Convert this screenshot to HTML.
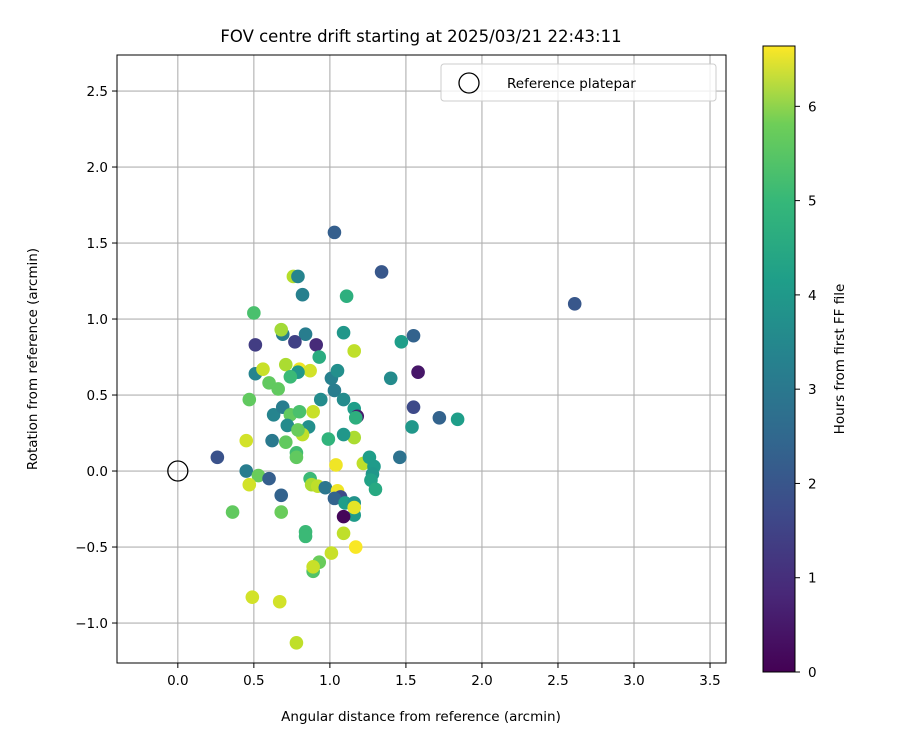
<!DOCTYPE html>
<html><head><meta charset="utf-8"><style>
body{margin:0;background:#fff}
svg text{font-family:"DejaVu Sans","Liberation Sans",sans-serif;fill:#000}
</style></head><body>
<svg id="c" width="900" height="750" xmlns="http://www.w3.org/2000/svg">
<rect width="900" height="750" fill="#fff"/>
<g id="grid"></g><g id="pts"></g><g id="axes"></g>
<text x="421" y="42" font-size="16.5" text-anchor="middle">FOV centre drift starting at 2025/03/21 22:43:11</text>
<text x="421" y="721" font-size="13.5" text-anchor="middle">Angular distance from reference (arcmin)</text>
<text x="37" y="359" font-size="13.5" text-anchor="middle" transform="rotate(-90 37 359)">Rotation from reference (arcmin)</text>
<g>
<rect x="441" y="64" width="275" height="37" rx="3" fill="#fff" fill-opacity="0.8" stroke="#ccc"/>
<circle cx="469" cy="83" r="10" fill="none" stroke="#000" stroke-width="1.3"/>
<text x="507" y="88" font-size="13.5">Reference platepar</text>
</g>
<defs><linearGradient id="vg" x1="0" y1="1" x2="0" y2="0">
<stop offset="0" stop-color="#440154"/><stop offset="0.125" stop-color="#482878"/><stop offset="0.25" stop-color="#3e4989"/><stop offset="0.375" stop-color="#31688e"/><stop offset="0.5" stop-color="#26828e"/><stop offset="0.625" stop-color="#1f9e89"/><stop offset="0.75" stop-color="#35b779"/><stop offset="0.875" stop-color="#6ece58"/><stop offset="1" stop-color="#fde725"/></linearGradient></defs>
<rect x="763" y="46" width="32" height="626" fill="url(#vg)" stroke="#000" stroke-width="1"/>
<g id="cb"></g>
<text x="844" y="359" font-size="13.5" text-anchor="middle" transform="rotate(-90 844 359)">Hours from first FF file</text>
</svg>
<script>
const xs=[1.03,1.34,2.61,0.76,0.79,0.82,1.11,0.5,0.69,0.68,0.84,0.51,0.77,0.91,1.09,1.16,1.55,1.47,0.93,1.58,1.4,0.51,0.56,0.71,0.8,0.87,0.79,0.74,0.6,0.66,0.47,1.01,1.05,1.03,1.09,0.94,1.16,1.18,1.17,1.55,1.72,1.84,1.54,0.63,0.69,0.74,0.72,0.8,0.89,0.86,0.82,0.78,0.78,0.79,0.71,0.62,0.45,0.26,0.45,0.53,0.6,0.47,0.36,0.68,0.68,0.99,1.16,1.09,1.04,1.22,1.26,1.29,1.28,1.27,1.3,1.46,0.87,0.88,0.92,0.97,1.05,1.07,1.03,1.1,1.16,1.16,1.09,1.16,1.09,1.17,1.01,0.93,0.89,0.89,0.84,0.84,0.49,0.67,0.78];
const ys=[1.57,1.31,1.10,1.28,1.28,1.16,1.15,1.04,0.90,0.93,0.90,0.83,0.85,0.83,0.91,0.79,0.89,0.85,0.75,0.65,0.61,0.64,0.67,0.70,0.67,0.66,0.65,0.62,0.58,0.54,0.47,0.61,0.66,0.53,0.47,0.47,0.41,0.36,0.35,0.42,0.35,0.34,0.29,0.37,0.42,0.37,0.30,0.39,0.39,0.29,0.24,0.12,0.09,0.27,0.19,0.20,0.20,0.09,0.00,-0.03,-0.05,-0.09,-0.27,-0.16,-0.27,0.21,0.22,0.24,0.04,0.05,0.09,0.03,-0.02,-0.06,-0.12,0.09,-0.05,-0.09,-0.10,-0.11,-0.13,-0.17,-0.18,-0.21,-0.21,-0.29,-0.30,-0.24,-0.41,-0.50,-0.54,-0.60,-0.66,-0.63,-0.40,-0.43,-0.83,-0.86,-1.13];
const hrs=[2.0,1.8,1.8,5.9,3.0,2.9,4.2,4.7,2.8,5.7,2.8,1.2,1.3,0.8,3.5,6.0,2.1,3.7,4.1,0.4,3.2,3.0,6.1,5.8,6.5,6.2,3.5,4.5,5.0,5.0,5.0,2.9,3.3,2.8,3.2,3.2,3.7,0.5,4.2,1.5,2.1,3.7,3.5,3.0,2.8,5.0,3.2,4.7,6.1,3.3,6.0,4.6,5.0,5.1,5.0,2.7,6.2,1.7,2.8,5.1,2.0,6.2,5.0,2.1,5.1,4.3,5.8,3.5,6.5,6.0,3.7,3.6,3.5,3.8,4.0,2.5,4.5,5.8,6.0,2.6,6.5,1.5,2.1,3.7,3.4,3.6,0.1,6.4,6.0,6.6,6.1,5.1,4.8,6.1,4.5,4.5,6.2,6.2,6.0];
const xTicks=[0,0.5,1,1.5,2,2.5,3,3.5];
const yTicks=[-1,-0.5,0,0.5,1,1.5,2,2.5];
const cTicks=[0,1,2,3,4,5,6];
const X0=117,X1=726,Y0=55,Y1=663,xmin=-0.4,xmax=3.605,ymin=-1.263,ymax=2.737,hmax=6.64;
const sx=v=>X0+(v-xmin)/(xmax-xmin)*(X1-X0);
const sy=v=>Y1-(v-ymin)/(ymax-ymin)*(Y1-Y0);
const sc=h=>672-h/hmax*626;
const NS="http://www.w3.org/2000/svg";
function mk(p,t,a){const e=document.createElementNS(NS,t);for(const k in a)e.setAttribute(k,a[k]);p.appendChild(e);return e;}
const V=[[68,1,84],[72,40,120],[62,73,137],[49,104,142],[38,130,142],[31,158,137],[53,183,121],[110,206,88],[181,222,43],[253,231,37]];
function vir(t){t=Math.max(0,Math.min(1,t));const s=t*9,i=Math.min(8,Math.floor(s)),f=s-i;const c=V[i].map((v,k)=>Math.round(v+(V[i+1][k]-v)*f));return `rgb(${c})`;}
const G=document.getElementById('grid'),A=document.getElementById('axes'),P=document.getElementById('pts'),CB=document.getElementById('cb');
xTicks.forEach(v=>{const x=sx(v);
const l=mk(G,'line',{x1:x,x2:x,y1:Y0,y2:Y1,stroke:'#b0b0b0','stroke-width':1.1});


mk(A,'line',{x1:x,x2:x,y1:Y1,y2:Y1+5,stroke:'#000'});
const t=mk(A,'text',{x:x,y:Y1+22,'font-size':13.5,'text-anchor':'middle'});t.textContent=v.toFixed(1);

});
yTicks.forEach(v=>{const y=sy(v);
const l=mk(G,'line',{x1:X0,x2:X1,y1:y,y2:y,stroke:'#b0b0b0','stroke-width':1.1});


mk(A,'line',{x1:X0-5,x2:X0,y1:y,y2:y,stroke:'#000'});
const t=mk(A,'text',{x:X0-9,y:y+5,'font-size':13.5,'text-anchor':'end'});t.textContent=(v<0?'\u2212':'')+Math.abs(v).toFixed(1);

});
const fr=mk(A,'rect',{x:X0,y:Y0,width:X1-X0,height:Y1-Y0,fill:'none',stroke:'#000','stroke-width':1});


xs.forEach((x,i)=>{const c=mk(P,'circle',{cx:sx(x),cy:sy(ys[i]),r:6.8,fill:vir(hrs[i]/hmax)});

});
const r=mk(P,'circle',{cx:sx(0),cy:sy(0),r:10,fill:'none',stroke:'#000','stroke-width':1.3});


cTicks.forEach(h=>{const y=sc(h);mk(CB,'line',{x1:795,x2:800,y1:y,y2:y,stroke:'#000'});
const t=mk(CB,'text',{x:808,y:y+5,'font-size':13.5});t.textContent=h;

});
</script>
</body></html>
